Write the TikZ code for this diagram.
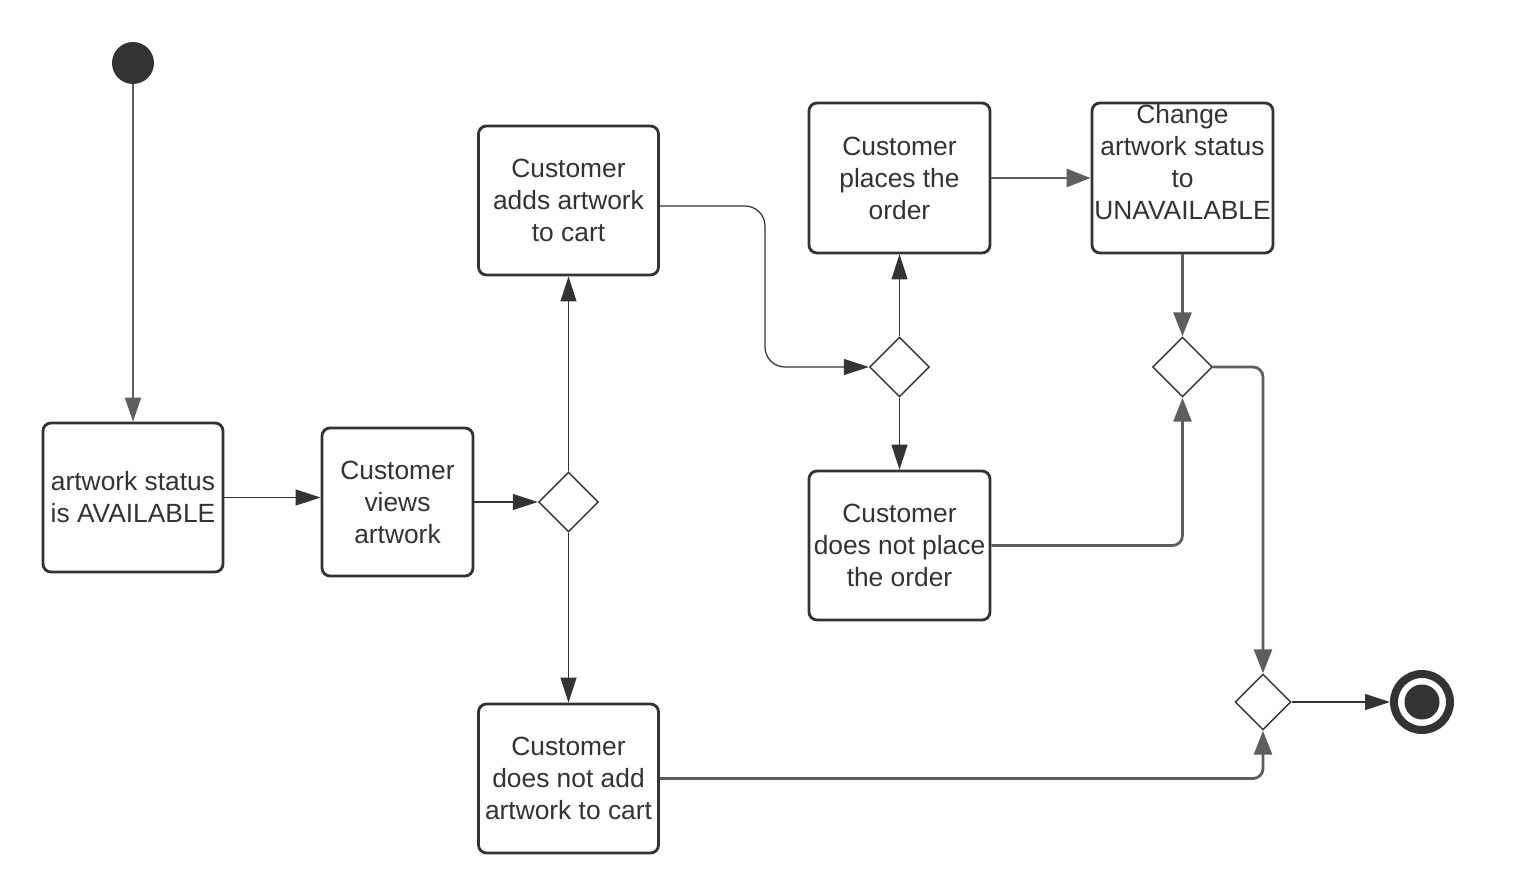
\documentclass[tikz,border=0pt]{standalone}
\usepackage{fontspec}
\setmainfont{Liberation Sans}
\usepackage{tikz}
\usetikzlibrary{arrows.meta,positioning,shapes.geometric}
\definecolor{ink}{HTML}{333333}
\definecolor{wire}{HTML}{5E5E5E}

\begin{document}
\begin{tikzpicture}[
    font=\fontsize{15}{18.2}\selectfont, text=ink,
    box/.style={draw=ink, line width=1.6pt, rounded corners=0.16cm, fill=white, minimum width=3.6cm, minimum height=2.98cm, align=center, inner sep=0pt},
    choice/.style={diamond, draw=ink, line width=0.8pt, fill=white, minimum width=1.2cm, minimum height=1.2cm, inner sep=0pt},
    arrow/.style={draw=ink, line width=0.7pt, -{Triangle[length=0.5cm, width=0.32cm]}},
    flow/.style={draw=wire, line width=1.6pt, rounded corners=0.2cm, -{Triangle[length=0.48cm, width=0.36cm]}}
  ]
    \useasboundingbox (0,0) rectangle (30.3,-17.58);

    \node[circle, fill=ink, minimum size=0.84cm, inner sep=0pt] (start) at (2.66,-1.26) {};
    \node[box] (avail) at (2.66,-9.95) {artwork status\\is AVAILABLE};
    \node[box, minimum width=3.02cm, minimum height=2.96cm] (views) at (7.95,-10.04) {Customer\\views\\artwork};
    \node[choice] (d1) at (11.37,-10.04) {};
    \node[box] (adds) at (11.37,-4.01) {Customer\\adds artwork\\to cart};
    \node[box] (noadd) at (11.37,-15.57) {Customer\\does not add\\artwork to cart};
    \node[choice] (d2) at (17.99,-7.34) {};
    \node[box, minimum width=3.62cm, minimum height=3.0cm] (places) at (17.99,-3.56) {Customer\\places the\\order};
    \node[box, minimum width=3.62cm] (noplace) at (17.99,-10.91) {Customer\\does not place\\the order};
    \node[box, minimum width=3.62cm, minimum height=3.0cm] (change) at (23.65,-3.56) {};
    \node[align=center, yshift=0.32cm] (changetext) at (change.center) {Change\\artwork status\\to\\UNAVAILABLE};
    \node[choice] (d3) at (23.65,-7.34) {};
    \node[choice, minimum width=1.12cm, minimum height=1.12cm] (d4) at (25.26,-14.04) {};
    \node[circle, draw=ink, line width=0.16cm, fill=white, minimum size=1.12cm, inner sep=0pt] (stop) at (28.44,-14.04) {};
    \node[circle, fill=ink, minimum size=0.7cm, inner sep=0pt] (stopdot) at (stop.center) {};

    \draw[draw=wire, line width=1.1pt, -{Triangle[length=0.48cm, width=0.32cm]}] (start) -- (avail);
    \draw[arrow] (avail.east) -- (avail.east -| views.west);
    \draw[arrow] (views) -- (d1);
    \draw[arrow] (d1) -- (adds);
    \draw[arrow] (d1) -- (noadd);
    \draw[arrow, rounded corners=0.4cm] ([yshift=-0.11cm]adds.east) -| (15.3,-7.34) -- (d2.west);
    \draw[arrow] (d2) -- (places);
    \draw[arrow] (d2) -- (noplace);
    \draw[flow] (places) -- (change);
    \draw[flow] (change) -- (d3);
    \draw[flow] (noplace.east) -| (d3.south);
    \draw[flow] (d3.east) -| (d4.north);
    \draw[flow] (noadd.east) -| (d4.south);
    \draw[arrow] (d4) -- (stop);
  \end{tikzpicture}
\end{document}
